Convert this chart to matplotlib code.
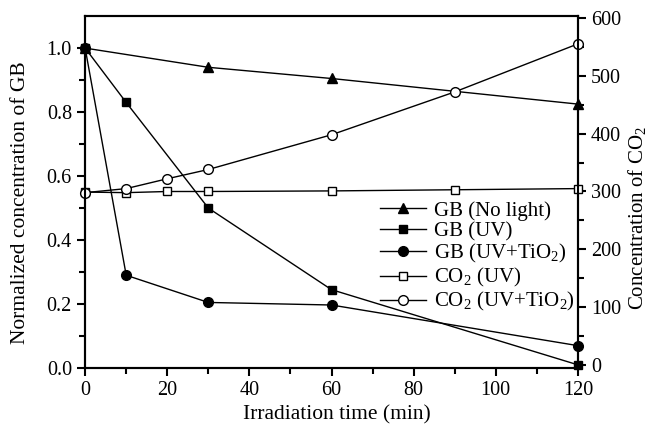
import numpy as np
import matplotlib
matplotlib.use('Agg')
import matplotlib.pyplot as plt

plt.rcParams['font.family'] = ['Liberation Serif', 'DejaVu Serif']
plt.rcParams['mathtext.fontset'] = 'custom'
plt.rcParams['mathtext.rm'] = 'Liberation Serif'

# data
t_nolight = [0, 30, 60, 120]
gb_nolight = [1.0, 0.94, 0.905, 0.825]
t_uv = [0, 10, 30, 60, 120]
gb_uv = [1.0, 0.83, 0.50, 0.245, 0.01]
t_tio2 = [0, 10, 30, 60, 120]
gb_tio2 = [1.0, 0.29, 0.205, 0.197, 0.07]
t_co2 = [0, 10, 20, 30, 60, 90, 120]
co2_uv = [299, 298, 300, 300, 301, 303, 305]
co2_tio2 = [298, 305, 322, 338, 398, 472, 555]

fig = plt.figure(figsize=(6.5, 4.24), dpi=100)
ax = fig.add_axes([0.131, 0.132, 0.758, 0.830])
ax2 = ax.twinx()

ms = 7
l1, = ax.plot(t_nolight, gb_nolight, '-^', color='k', lw=1, ms=ms, clip_on=False)
l2, = ax.plot(t_uv, gb_uv, '-s', color='k', lw=1, ms=ms - 1, clip_on=False)
l3, = ax.plot(t_tio2, gb_tio2, '-o', color='k', lw=1, ms=ms, clip_on=False)
l4, = ax2.plot(t_co2, co2_uv, '-s', color='k', mfc='white', lw=1, ms=ms - 1, clip_on=False)
l5, = ax2.plot(t_co2, co2_tio2, '-o', color='k', mfc='white', lw=1, ms=ms, clip_on=False)

ax.set_xlim(0, 120)
ax.set_ylim(0, 1.1)
ax2.set_ylim(-5, 603)

ax.set_xticks(np.arange(0, 121, 20))
ax.set_xticks(np.arange(0, 121, 10), minor=True)
ax.set_yticks(np.arange(0, 1.01, 0.2))
ax.set_yticks(np.arange(0, 1.01, 0.1), minor=True)
ax.set_yticklabels([f'{v:.1f}' for v in np.arange(0, 1.01, 0.2)])
ax2.set_yticks(np.arange(0, 601, 100))
ax2.set_yticks(np.arange(0, 601, 50), minor=True)

for a in (ax, ax2):
    a.tick_params(which='both', direction='out', labelsize=14.5, width=1.5)
    a.tick_params(which='major', length=6)
    a.tick_params(which='minor', length=4)
    for s in a.spines.values():
        s.set_linewidth(1.5)

ax.set_xlabel('Irradiation time (min)', fontsize=15.5)
ax.set_ylabel('Normalized concentration of GB', fontsize=15.5)
ax2.set_ylabel('Concentration of CO$_2$', fontsize=15)
ax.xaxis.set_label_coords(0.51, -0.105)
ax.yaxis.set_label_coords(-0.112, 0.47)
ax2.yaxis.set_label_coords(1.098, 0.426)

ax.legend([l1, l2, l3, l4, l5],
          ['GB (No light)', 'GB (UV)', 'GB (UV+TiO$_2$)', 'CO$_2$ (UV)', 'CO$_2$ (UV+TiO$_2$)'],
          loc='upper left', bbox_to_anchor=(0.598, 0.475), frameon=False, fontsize=15,
          handlelength=2.2, handletextpad=0.4, labelspacing=0.05, borderaxespad=0,
          borderpad=0)

fig.savefig('out.png', dpi=100)
